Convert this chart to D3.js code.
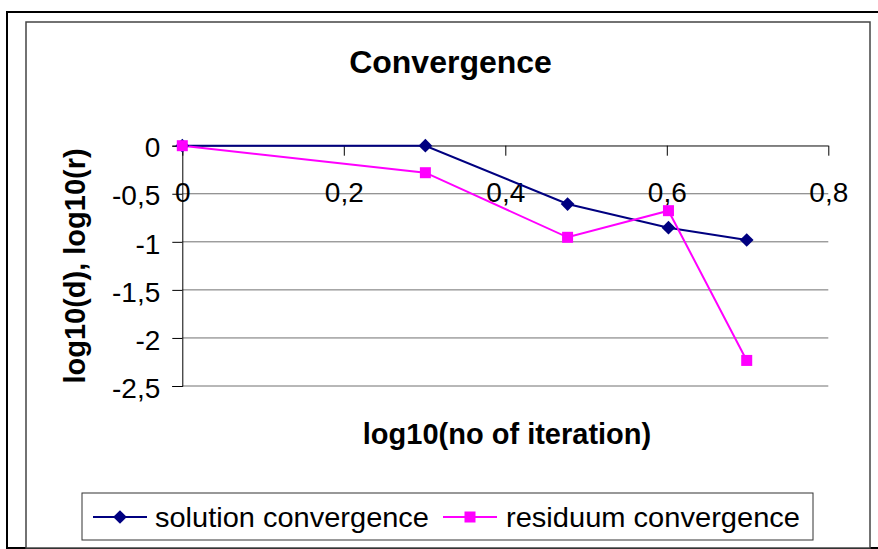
<!doctype html>
<html>
<head>
<meta charset="utf-8">
<style>
    body { margin: 0; background: #fff; }
    text { font-family: "Liberation Sans", Arial, sans-serif; }
</style>
<script src="https://d3js.org/d3.v7.min.js"></script>
</head>
<body>
<svg width="878" height="549"></svg>
<script>
    // data
    var iterLog = [0, 0.30103, 0.47712, 0.60206, 0.69897];
    var solution = [0, 0, -0.607, -0.853, -0.981];
    var residuum = [0, -0.281, -0.953, -0.676, -2.234];
    var xTicks = [0, 0.2, 0.4, 0.6, 0.8];
    var yTicks = [0, -0.5, -1, -1.5, -2, -2.5];
    var seriesNames = ["solution convergence", "residuum convergence"];

    var svg = d3.select("svg");

    // outer frame + chart area frame
    svg.append("rect")
       .attr("x", 7).attr("y", 12)
       .attr("width", 900).attr("height", 536)
       .attr("fill", "none").attr("stroke", "#000").attr("stroke-width", 2);

    svg.append("rect")
       .attr("x", 26).attr("y", 22)
       .attr("width", 844).attr("height", 526)
       .attr("fill", "#fff").attr("stroke", "#444").attr("stroke-width", 1.5);

    var x = d3.scaleLinear().domain([0, 0.8]).range([182.3, 828.3]),
        y = d3.scaleLinear().domain([-2.5, 0]).range([386, 145.7]);

    var fmt = function(d) { return String(d).replace(".", ","); };

    // gridlines
    svg.append("g")
       .selectAll("line")
       .data(yTicks)
       .enter().append("line")
       .attr("x1", x(0)).attr("x2", x(0.8))
       .attr("y1", function(d) { return y(d); })
       .attr("y2", function(d) { return y(d); })
       .attr("stroke", "#707070").attr("stroke-width", 1);

    // y axis
    var gy = svg.append("g")
       .attr("transform", "translate(" + x(0) + ",0)")
       .call(d3.axisLeft(y).tickValues(yTicks).tickFormat(fmt).tickSize(10).tickPadding(12));
    gy.select(".domain").attr("stroke", "#000");
    gy.selectAll(".tick line").attr("stroke", "#000");
    gy.selectAll("text")
      .attr("dy", "0.4em")
      .style("font-family", "Liberation Sans, Arial, sans-serif")
      .attr("font-size", "28px").attr("fill", "#000");

    // x axis sits on y = 0
    var gx = svg.append("g")
       .attr("transform", "translate(0," + y(0) + ")")
       .call(d3.axisBottom(x).tickValues(xTicks).tickFormat(fmt).tickSize(10).tickSizeOuter(0));
    gx.select(".domain").attr("stroke", "#606060");
    gx.selectAll(".tick line").attr("stroke", "#000");
    gx.selectAll("text")
      .attr("y", 36)
      .style("font-family", "Liberation Sans, Arial, sans-serif")
      .attr("font-size", "28px").attr("fill", "#000");

    // titles
    svg.append("text")
       .attr("x", 450.5).attr("y", 72.5)
       .attr("text-anchor", "middle")
       .attr("font-size", "32px")
       .style("font-weight", "bold")
       .text("Convergence");

    svg.append("text")
       .attr("x", 507).attr("y", 444)
       .attr("text-anchor", "middle")
       .attr("font-size", "29px")
       .style("font-weight", "bold")
       .text("log10(no of iteration)");

    svg.append("text")
       .attr("transform", "translate(85,266)rotate(-90)")
       .attr("text-anchor", "middle")
       .attr("font-size", "29px")
       .style("font-weight", "bold")
       .text("log10(d), log10(r)");

    // series
    var line = d3.line()
        .x(function(d, i) { return x(iterLog[i]); })
        .y(function(d) { return y(d); });

    svg.append("path").datum(solution)
       .attr("d", line).attr("fill", "none")
       .attr("stroke", "#000080").attr("stroke-width", 2);

    svg.append("path").datum(residuum)
       .attr("d", line).attr("fill", "none")
       .attr("stroke", "#ff00ff").attr("stroke-width", 2);

    var diamond = d3.symbol().type(d3.symbolDiamond2).size(120);

    svg.append("g").selectAll("path")
       .data(solution)
       .enter().append("path")
       .attr("d", diamond)
       .attr("transform", function(d, i) { return "translate(" + x(iterLog[i]) + "," + y(d) + ")"; })
       .attr("fill", "#000080");

    svg.append("g").selectAll("rect")
       .data(residuum)
       .enter().append("rect")
       .attr("x", function(d, i) { return x(iterLog[i]) - 5.5; })
       .attr("y", function(d) { return y(d) - 5.5; })
       .attr("width", 11).attr("height", 11)
       .attr("fill", "#ff00ff");

    // legend
    var lg = svg.append("g");
    lg.append("rect")
      .attr("x", 82).attr("y", 493)
      .attr("width", 731).attr("height", 47)
      .attr("fill", "#fff").attr("stroke", "#333").attr("stroke-width", 1);

    lg.append("line").attr("x1", 93).attr("x2", 147).attr("y1", 517).attr("y2", 517)
      .attr("stroke", "#000080").attr("stroke-width", 2);
    lg.append("path").attr("d", diamond)
      .attr("transform", "translate(120,517)").attr("fill", "#000080");
    lg.append("text").attr("x", 155).attr("y", 527)
      .attr("font-size", "28px")
      .attr("textLength", 274).attr("lengthAdjust", "spacingAndGlyphs")
      .text(seriesNames[0]);

    lg.append("line").attr("x1", 443).attr("x2", 497).attr("y1", 517).attr("y2", 517)
      .attr("stroke", "#ff00ff").attr("stroke-width", 2);
    lg.append("rect").attr("x", 464.5).attr("y", 511.5).attr("width", 11).attr("height", 11)
      .attr("fill", "#ff00ff");
    lg.append("text").attr("x", 506).attr("y", 527)
      .attr("font-size", "28px")
      .attr("textLength", 294).attr("lengthAdjust", "spacingAndGlyphs")
      .text(seriesNames[1]);
</script>
</body>
</html>
